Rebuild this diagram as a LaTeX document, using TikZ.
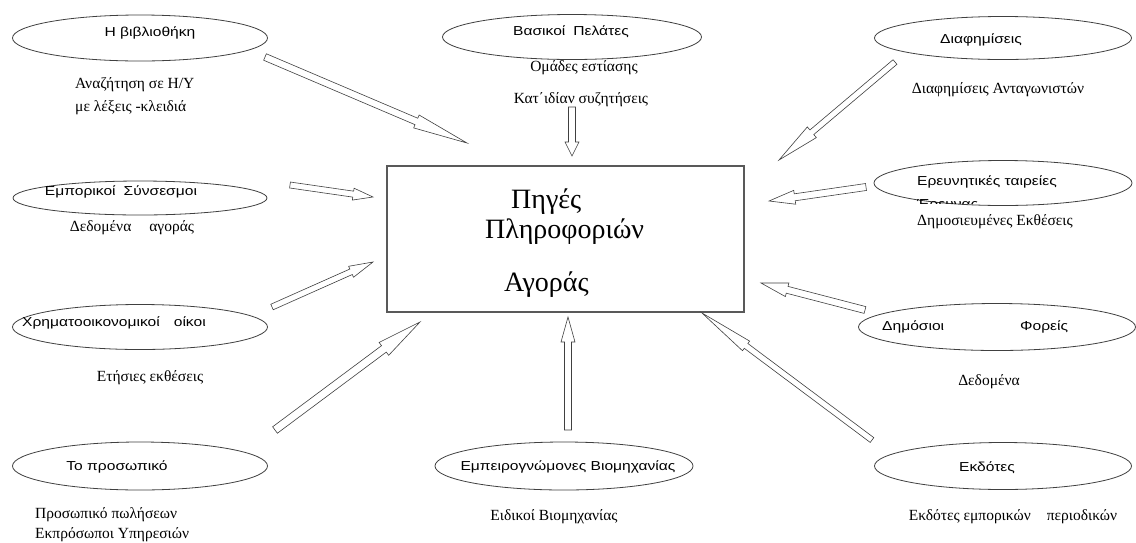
\documentclass[tikz,border=0pt]{standalone}
\usepackage{fontspec}
\setmainfont{Liberation Serif}
\newfontfamily\sansgr[FakeStretch=1.2]{Liberation Sans}
\usetikzlibrary{calc,shapes.geometric}
\tikzset{
  ell/.style={draw=black!75, line width=0.8pt, ellipse, inner sep=0pt},
  etext/.style={font=\sansgr\fontsize{13}{14}\selectfont, inner sep=0pt},
  stext/.style={font=\fontsize{15.5}{23}\selectfont, inner sep=0pt},
  ttext/.style={font=\fontsize{28}{30}\selectfont, inner sep=0pt, anchor=west},
  hollowarr/.style={draw=black!75, line width=0.6pt, fill=white, line join=miter},
  mainbox/.style={draw=black!65, line width=1.1pt}
}
\newcommand{\myarrow}[5]{%
  \coordinate (#1h) at ($(#2)!#3!(#1)$);
  \draw[hollowarr] ($(#1)!#5!90:(#2)$) -- ($(#1h)!#5!90:(#2)$) -- ($(#1h)!#4!90:(#2)$)
    -- (#2) -- ($(#1h)!#4!-90:(#2)$) -- ($(#1h)!#5!-90:(#2)$) -- ($(#1)!#5!-90:(#2)$) -- cycle;
}
\begin{document}
\begin{tikzpicture}[x=1pt,y=-1pt]
\useasboundingbox[fill=white] (0,0) rectangle (1136,542);

% central box
\node[mainbox, minimum width=357pt, minimum height=146pt, inner sep=0pt] (box) at (565.5,239) {};
\node[ttext] (ti1) at (511,202) {Πηγές};
\node[ttext] (ti2) at (485,232) {Πληροφοριών};
\node[ttext] (ti3) at (504,285) {Αγοράς};

% ellipses
\node[ell, minimum width=255pt, minimum height=46pt] (e1) at (140,38) {};
\node[ell, minimum width=259pt, minimum height=45pt] (e2) at (572,37) {};
\node[ell, minimum width=257pt, minimum height=43pt] (e3) at (1003,38) {};
\node[ell, minimum width=258pt, minimum height=45pt] (e4) at (1003,183) {};
\node[ell, minimum width=254pt, minimum height=34pt] (e5) at (140,198) {};
\node[ell, minimum width=255pt, minimum height=45pt] (e6) at (140,327) {};
\node[ell, minimum width=255pt, minimum height=48pt] (e7) at (140,466) {};
\node[ell, minimum width=258pt, minimum height=48pt] (e8) at (564,466) {};
\node[ell, minimum width=277pt, minimum height=47pt] (e9) at (997,327) {};
\node[ell, minimum width=257pt, minimum height=47pt] (e10) at (1003,466) {};

% ellipse texts
\node[etext] (t1) at (150,33) {Η βιβλιοθήκη};
\node[etext] (t2) at (571,32) {Βασικοί\hspace{8pt}Πελάτες};
\node[etext] (t3) at (981,40) {Διαφημίσεις};
\node[etext, anchor=west] (t4) at (917,182) {Ερευνητικές ταιρείες};
\begin{scope}
  \clip (850,150) rectangle (1136,203.5);
  \node[etext, anchor=west] (t4b) at (917,205) {Έρευνας};
\end{scope}
\node[etext] (t5) at (121,192) {Εμπορικοί\hspace{8pt}Σύνσεσμοι};
\node[etext, anchor=west] (t6) at (22,323) {Χρηματοοικονομικοί\hspace{14pt}οίκοι};
\node[etext] (t7) at (117,467) {Το προσωπικό};
\node[etext] (t8) at (568,467) {Εμπειρογνώμονες Βιομηχανίας};
\node[etext, anchor=west] (t9) at (882,327) {Δημόσιοι\hspace{76pt}Φορείς};
\node[etext] (t10) at (987,468) {Εκδότες};

% sub texts
\node[stext, anchor=west, align=left] (s1) at (75,96.5) {Αναζήτηση σε Η/Υ\\με λέξεις -κλειδιά};
\node[stext] (s2a) at (584,68) {Ομάδες εστίασης};
\node[stext] (s2b) at (581,100) {Κατ΄ιδίαν συζητήσεις};
\node[stext] (s3) at (998,90) {Διαφημίσεις Ανταγωνιστών};
\node[stext, anchor=west] (s4) at (917,222) {Δημοσιευμένες Εκθέσεις};
\node[stext] (s5) at (132,228) {Δεδομένα\hspace{18pt}αγοράς};
\node[stext] (s6) at (150,378) {Ετήσιες εκθέσεις};
\node[stext, anchor=west, align=left, font=\fontsize{15.5}{20}\selectfont] (s7) at (35,525) {Προσωπικό πωλήσεων\\Εκπρόσωποι Υπηρεσιών};
\node[stext] (s8) at (554,517) {Ειδικοί Βιομηχανίας};
\node[stext] (s9) at (989,382) {Δεδομένα};
\node[stext] (s10) at (1013,517) {Εκδότες εμπορικών\hspace{16pt}περιοδικών};

% arrow end points
\coordinate (a1) at (265,57);   \coordinate (b1) at (467,143);
\coordinate (a2) at (572,107);  \coordinate (b2) at (572,156);
\coordinate (a3) at (895,62);   \coordinate (b3) at (779,160);
\coordinate (a4) at (866,187);  \coordinate (b4) at (769,201);
\coordinate (a5) at (290,185);  \coordinate (b5) at (373,197);
\coordinate (a6) at (272,307);  \coordinate (b6) at (373,262);
\coordinate (a7) at (275,430);  \coordinate (b7) at (420,322);
\coordinate (a8) at (568,430);  \coordinate (b8) at (568,317);
\coordinate (a9) at (865,310);  \coordinate (b9) at (761,283);
\coordinate (a10) at (872,440); \coordinate (b10) at (702,313);

\myarrow{a1}{b1}{55pt}{7pt}{3.5pt}
\myarrow{a2}{b2}{14pt}{7pt}{3.5pt}
\myarrow{a3}{b3}{43pt}{7pt}{3pt}
\myarrow{a4}{b4}{26pt}{7pt}{3.5pt}
\myarrow{a5}{b5}{20pt}{6pt}{3pt}
\myarrow{a6}{b6}{24pt}{6pt}{3pt}
\myarrow{a7}{b7}{45pt}{8pt}{4pt}
\myarrow{a8}{b8}{25pt}{7pt}{3.5pt}
\myarrow{a9}{b9}{27pt}{7pt}{3.5pt}
\myarrow{a10}{b10}{55pt}{6pt}{3pt}
\end{tikzpicture}
\end{document}
